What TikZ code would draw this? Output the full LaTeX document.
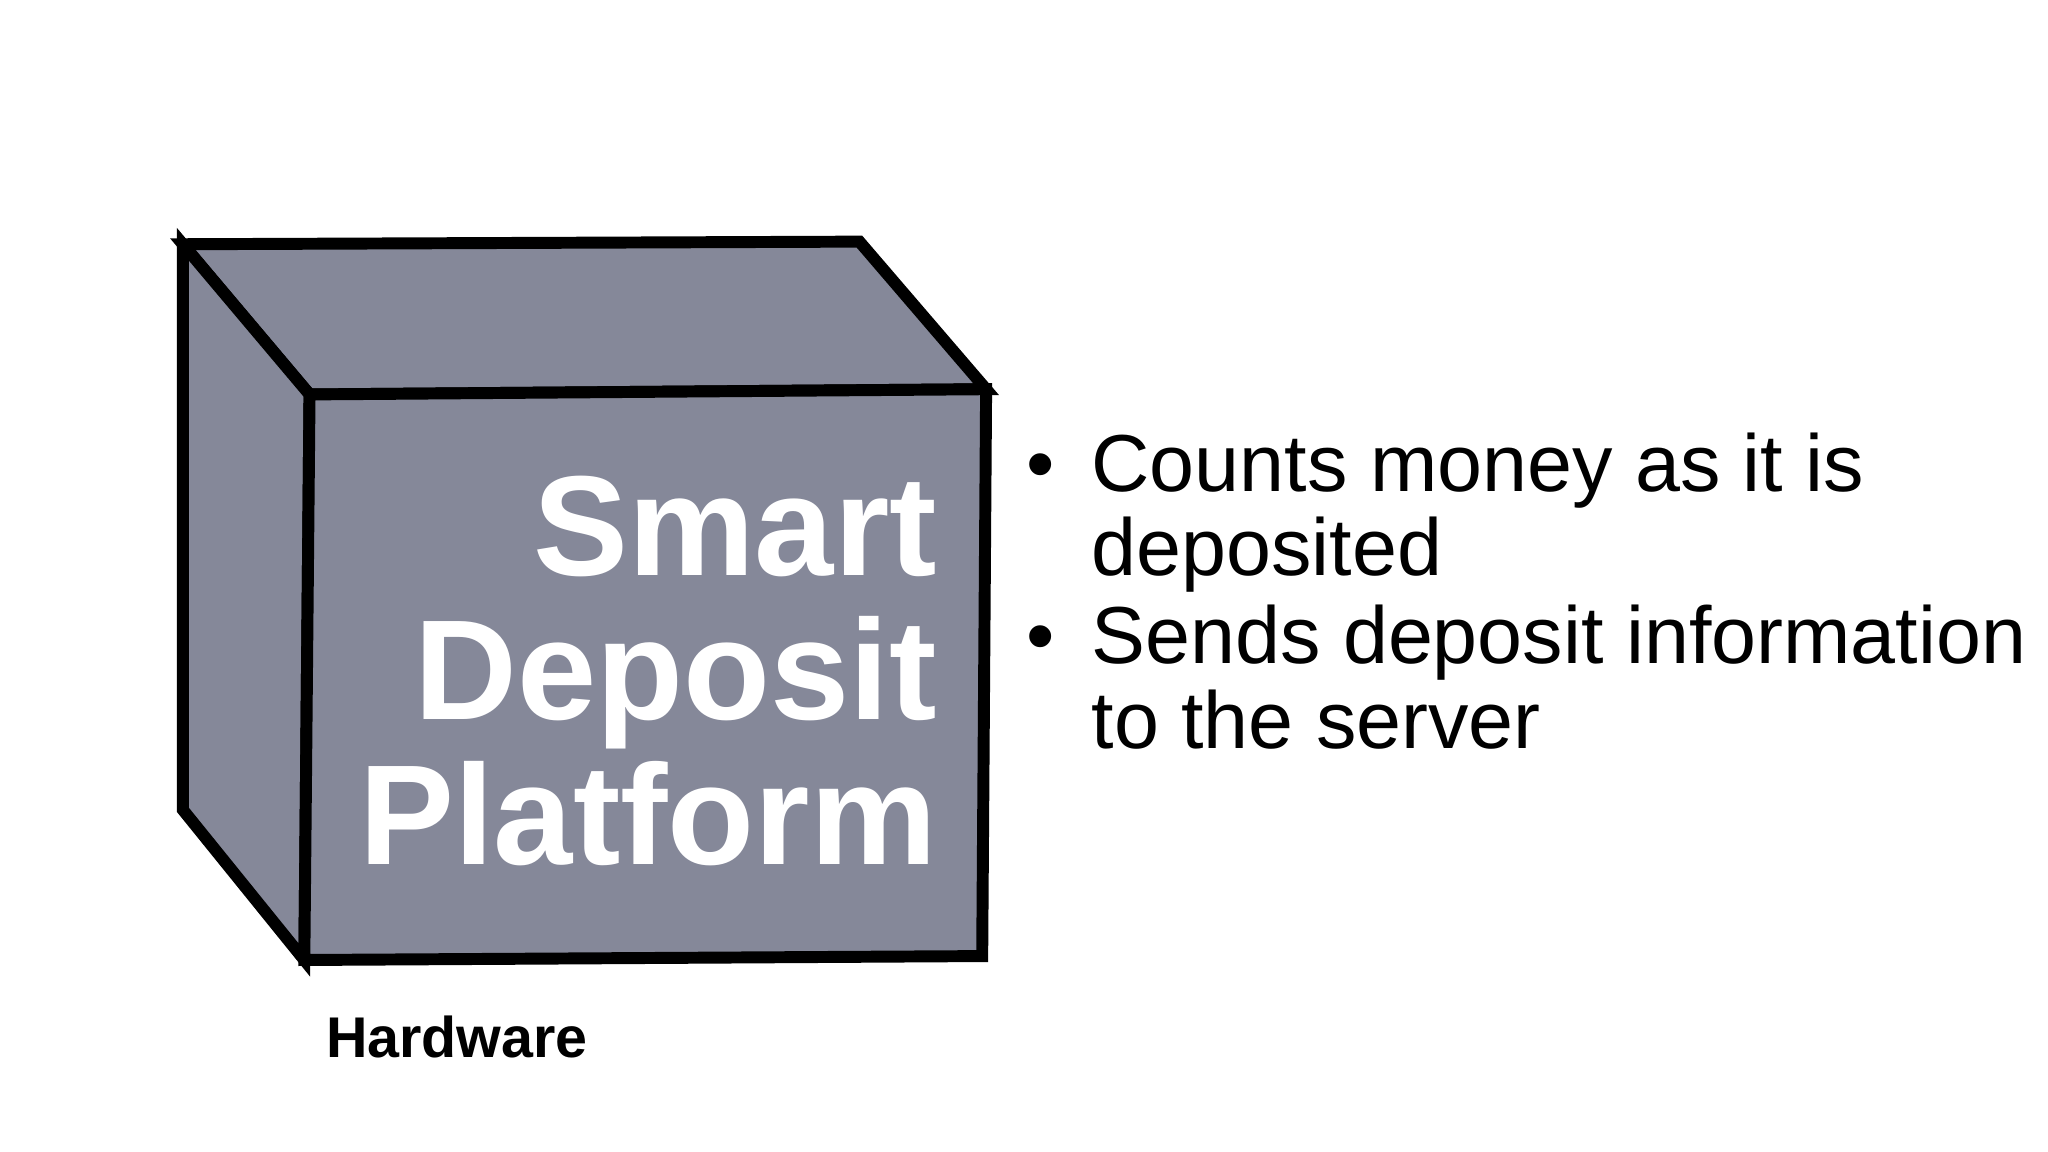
\documentclass[tikz,border=0pt]{standalone}
\usepackage{fontspec}
\setmainfont{Liberation Sans}
\begin{document}
\begin{tikzpicture}[x=0.01cm,y=-0.01cm,
  edge/.style={line width=2.6pt,line join=miter,draw=black,fill=cubefill},
  big/.style={text=white,font=\fontsize{31}{31}\selectfont\bfseries,anchor=base east,inner sep=0},
  bul/.style={font=\fontsize{17.6}{19}\selectfont,anchor=base west,inner sep=0}]
\definecolor{cubefill}{HTML}{858899}
\useasboundingbox (0,0) rectangle (1568,882);
\coordinate (A) at (140,187); \coordinate (B) at (658,185);
\coordinate (C) at (755,298); \coordinate (D) at (237,302);
\coordinate (E) at (233,735); \coordinate (F) at (752,732);
\coordinate (G) at (140,620);
\draw[edge] (A) -- (B) -- (C) -- (D) -- cycle;
\draw[edge] (A) -- (D) -- (E) -- (G) -- cycle;
\draw[edge] (D) -- (C) -- (F) -- (E) -- cycle;
\node[big] (s1) at (718,441) {Smart};
\node[big] (s2) at (718,551) {Deposit};
\node[big] (s3) at (718,662) {Platform};
\node[bul] (b1) at (785,376) {\textbullet};
\node[bul] (t1) at (835,376) {Counts money as it is};
\node[bul] (t2) at (835,441) {deposited};
\node[bul] (b2) at (785,508) {\textbullet};
\node[bul] (t3) at (835,508) {Sends deposit information};
\node[bul] (t4) at (835,573) {to the server};
\node[bul,font=\fontsize{12.5}{14}\selectfont\bfseries] (hw) at (249,810) {Hardware};
\end{tikzpicture}
\end{document}
